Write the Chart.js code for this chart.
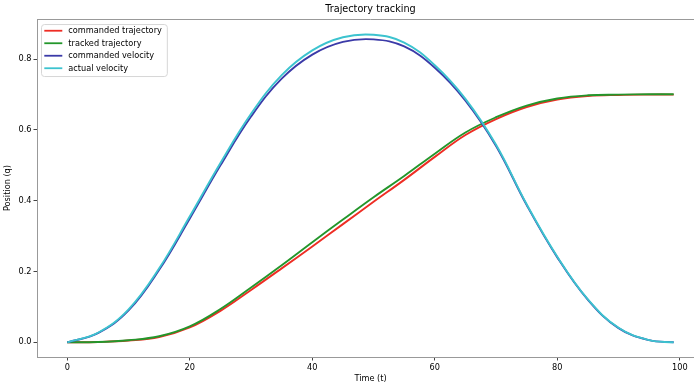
<!DOCTYPE html>
<html>
<head>
<meta charset="utf-8">
<script src="https://cdn.jsdelivr.net/npm/chart.js@4.4.0/dist/chart.umd.min.js"></script>
<style>
html, body { margin: 0; padding: 0; background: #fff; overflow: hidden; }
#wrap { width: 694px; height: 385px; overflow: hidden; }
</style>
</head>
<body>
<div id="wrap"><canvas id="myChart" width="710" height="385"></canvas></div>
<script>
// values
const time = [0, 5, 10, 15, 20, 25, 30, 35, 40, 45, 50, 55, 60, 65, 70, 75, 80, 85, 90, 95, 99];
const cmdTraj   = [0, 0.001, 0.005, 0.015, 0.042, 0.089, 0.148, 0.209, 0.271, 0.334, 0.397, 0.459, 0.524, 0.586, 0.631, 0.665, 0.686, 0.696, 0.699, 0.700, 0.700];
const trackTraj = [0, 0.001, 0.006, 0.017, 0.045, 0.094, 0.155, 0.218, 0.283, 0.347, 0.410, 0.470, 0.533, 0.593, 0.636, 0.669, 0.689, 0.698, 0.700, 0.701, 0.701];
const cmdVel    = [0, 0.026, 0.090, 0.205, 0.350, 0.500, 0.638, 0.745, 0.813, 0.849, 0.856, 0.836, 0.776, 0.683, 0.555, 0.388, 0.240, 0.120, 0.040, 0.006, 0];
const actVel    = [0, 0.027, 0.093, 0.209, 0.356, 0.507, 0.646, 0.755, 0.825, 0.862, 0.869, 0.847, 0.783, 0.688, 0.558, 0.390, 0.242, 0.121, 0.041, 0.006, 0];

const seriesNames = ['commanded trajectory', 'tracked trajectory', 'commanded velocity', 'actual velocity'];
const seriesColors = ['#ee2d24', '#23962b', '#3b3aa8', '#3cc3cf'];
const xTicks = [0, 20, 40, 60, 80, 100];

Chart.defaults.font.family = "'DejaVu Sans', sans-serif";
Chart.defaults.font.size = 8.2;
Chart.defaults.color = '#000';

const pts = (ys) => ys.map((y, i) => ({ x: time[i], y: y }));

const spineTop = {
    id: 'spineTop',
    afterDraw(chart) {
        const { ctx, chartArea } = chart;
        ctx.save();
        ctx.strokeStyle = '#999';
        ctx.lineWidth = 1;
        ctx.beginPath();
        ctx.moveTo(chartArea.left, Math.round(chartArea.top) + 0.5);
        ctx.lineTo(chartArea.right, Math.round(chartArea.top) + 0.5);
        ctx.stroke();
        ctx.restore();
    }
};

// matplotlib style legend box inside the axes
const legendBox = {
    id: 'legendBox',
    afterDatasetsDraw(chart) {
        const { ctx, chartArea } = chart;
        const sets = chart.data.datasets;
        ctx.save();
        ctx.font = "8.2px 'DejaVu Sans', sans-serif";
        const x0 = chartArea.left + 4, y0 = chartArea.top + 5;
        const rowH = 12.5;
        let w = 0;
        sets.forEach(d => { w = Math.max(w, ctx.measureText(d.label).width); });
        const bw = 27.3 + w + 5, bh = sets.length * rowH + 2;
        ctx.fillStyle = 'rgba(255,255,255,0.85)';
        ctx.strokeStyle = '#d6d6d6';
        ctx.lineWidth = 1;
        ctx.beginPath();
        if (ctx.roundRect) ctx.roundRect(x0 + 0.5, y0 + 0.5, bw, bh, 3);
        else ctx.rect(x0 + 0.5, y0 + 0.5, bw, bh);
        ctx.fill();
        ctx.stroke();
        sets.forEach((d, i) => {
            const y = y0 + 6.7 + i * rowH;
            ctx.strokeStyle = d.borderColor;
            ctx.lineWidth = 1.8;
            ctx.beginPath();
            ctx.moveTo(x0 + 3.3, y);
            ctx.lineTo(x0 + 21.3, y);
            ctx.stroke();
            ctx.fillStyle = '#000';
            ctx.textBaseline = 'middle';
            ctx.fillText(d.label, x0 + 27.3, y + 0.5);
        });
        ctx.restore();
    }
};

const seriesData = [cmdTraj, trackTraj, cmdVel, actVel];
const datasets = seriesData.map((ys, i) => ({
    label: seriesNames[i],
    data: pts(ys),
    borderColor: seriesColors[i],
    backgroundColor: seriesColors[i],
    borderWidth: 1.9,
    pointRadius: 0,
    fill: false,
    tension: 0.4,
    order: seriesData.length - i
}));

const ctx = document.getElementById('myChart');
const myChart = new Chart(ctx, {
    type: 'line',
    data: { datasets: datasets },
    options: {
        responsive: false,
        animation: false,
        devicePixelRatio: 1,
        layout: { padding: { left: 0, right: 6, top: 0, bottom: 0 } },
        plugins: {
            legend: { display: false },
            tooltip: { enabled: false },
            title: {
                display: true,
                text: 'Trajectory tracking',
                fullSize: false,
                color: '#000',
                font: { size: 9.7, weight: 'normal' },
                padding: { top: 4, bottom: 3.4 }
            }
        },
        scales: {
            x: {
                type: 'linear',
                min: -4.95,
                max: 103.95,
                afterFit: s => { s.height = 28; },
                afterBuildTicks: s => { s.ticks = xTicks.map(v => ({ value: v })); },
                ticks: { padding: 2.3, color: '#000', includeBounds: false },
                grid: { display: true, drawOnChartArea: false, drawTicks: true, tickLength: 3.5, color: '#444' },
                border: { display: true, color: '#999', width: 1 },
                title: { display: true, text: 'Time (t)', color: '#000', padding: { top: 0, bottom: 1 } }
            },
            y: {
                min: -0.0415,
                max: 0.9135,
                afterFit: s => { s.width = 37; },
                ticks: { stepSize: 0.2, padding: 2, color: '#000', includeBounds: false, callback: v => v.toFixed(1) },
                grid: { display: true, drawOnChartArea: false, drawTicks: true, tickLength: 3.5, color: '#444' },
                border: { display: true, color: '#999', width: 1 },
                title: { display: true, text: 'Position (q)', color: '#000', padding: { top: 3, bottom: 0 } }
            }
        }
    },
    plugins: [spineTop, legendBox]
});
</script>
</body>
</html>
